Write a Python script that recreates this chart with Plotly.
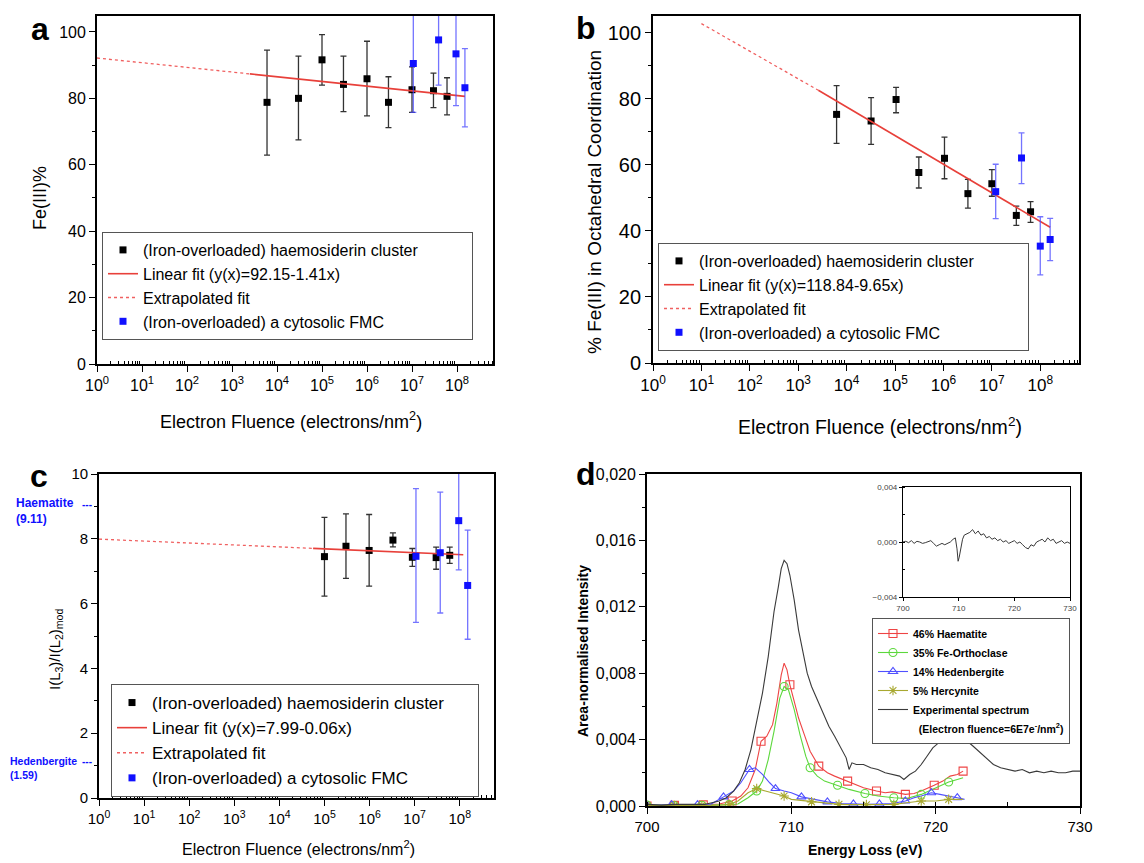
import plotly.graph_objects as go

W, H = 1144, 863
OFF = 8  # default page margin of the html body
FW, FH = W - OFF, H - OFF
FONT = "Liberation Sans, Arial, sans-serif"

# ---- panel a : Fe(III)% ----
a_h_x = [6e3, 3e4, 1e5, 3e5, 1e6, 3e6, 1e7, 3e7, 6e7]
a_h_y = [78.8, 80.0, 91.6, 84.2, 85.9, 78.8, 82.6, 82.3, 80.6]
a_h_hi = [94.5, 92.7, 99.2, 92.7, 97.2, 86.5, 89.5, 87.6, 86.2]
a_h_lo = [62.9, 67.5, 84.0, 76.0, 74.7, 71.2, 75.8, 77.2, 75.0]
a_f_x = [1.07e7, 3.9e7, 9.5e7, 1.5e8]
a_f_y = [90.5, 97.6, 93.4, 83.2]
a_f_hi = [105.2, 111.2, 109.0, 95.0]
a_f_lo = [75.8, 84.0, 77.8, 71.4]
a_fit_x, a_fit_y = [2.5e3, 1.5e8], [87.36, 80.6]
a_ext_x, a_ext_y = [1, 2.5e3], [92.15, 87.36]

# ---- panel b : % Fe(III) octahedral ----
b_h_x = [6.2e3, 3.2e4, 1.05e5, 3.1e5, 1.05e6, 3.2e6, 1.0e7, 3.2e7, 6.3e7]
b_h_y = [75.3, 73.3, 79.8, 57.7, 62.0, 51.3, 54.3, 44.7, 45.8]
b_h_hi = [84.0, 80.4, 83.5, 62.4, 68.4, 55.6, 58.6, 47.5, 48.9]
b_h_lo = [66.5, 66.2, 75.8, 53.0, 55.8, 46.9, 50.5, 41.7, 42.6]
b_f_x = [1.2e7, 4.1e7, 1.0e8, 1.6e8]
b_f_y = [51.9, 62.1, 35.4, 37.4]
b_f_hi = [60.2, 69.7, 44.3, 43.8]
b_f_lo = [43.7, 54.3, 26.7, 31.0]
b_fit_x, b_fit_y = [2.6e3, 1.6e8], [82.6, 41.1]
b_ext_x, b_ext_y = [10, 2.6e3], [102.8, 82.6]

# ---- panel c : L3/L2 ratio ----
c_h_x = [1e5, 3e5, 9.8e5, 3.3e6, 8.9e6, 3e7, 6e7]
c_h_y = [7.45, 7.77, 7.64, 7.96, 7.43, 7.42, 7.49]
c_h_hi = [8.66, 8.77, 8.75, 8.18, 7.70, 7.74, 7.74]
c_h_lo = [6.23, 6.78, 6.54, 7.75, 7.15, 7.06, 7.24]
c_f_x = [1.07e7, 3.7e7, 9.5e7, 1.5e8]
c_f_y = [7.46, 7.57, 8.56, 6.56]
c_f_hi = [9.55, 9.44, 10.08, 8.27]
c_f_lo = [5.42, 5.71, 7.04, 4.90]
c_fit_x, c_fit_y = [5.6e4, 1.2e8], [7.705, 7.506]
c_ext_x, c_ext_y = [1, 5.6e4], [7.99, 7.705]
# reference minerals, drawn where the picture puts them
c_refs = [("Haematite", "(9.11)", 8.98, 12, 14), ("Hedenbergite", "(1.59)", 1.02, 10.5, 8)]

# ---- panel d : EELS spectrum fit ----
exp_x = [700, 701, 702, 703, 704, 704.5, 705, 705.5, 706, 706.4, 706.8, 707.2, 707.6, 708, 708.4,
         708.8, 709.1, 709.3, 709.5, 709.7, 709.9, 710.2, 710.5, 710.8, 711.1, 711.4, 711.8, 712.2,
         712.6, 713, 713.4, 713.8, 714, 714.2, 714.5, 715, 715.5, 716, 716.5, 717, 717.5, 717.8,
         718.2, 718.6, 719, 719.4, 719.8, 720.2, 720.6, 721, 721.4, 721.8, 722.2, 722.6, 723, 723.5,
         724, 724.5, 725, 725.5, 726, 726.5, 727, 727.5, 728, 728.5, 729, 729.5, 730]
exp_y = [0.0001, 0.00005, 0.0001, 0.00008, 0.0001, 0.0002, 0.0003, 0.0005, 0.0009, 0.0014, 0.0022,
         0.0034, 0.0050, 0.0068, 0.0090, 0.0117, 0.0132, 0.0143, 0.0148, 0.0146, 0.0139, 0.0124,
         0.0106, 0.0092, 0.0080, 0.0072, 0.0064, 0.0055, 0.0048, 0.0042, 0.0035, 0.0029, 0.0022,
         0.0026, 0.0025, 0.0025, 0.0023, 0.0022, 0.0020, 0.0019, 0.0018, 0.0016, 0.0019, 0.0021,
         0.0025, 0.0030, 0.0035, 0.0038, 0.0040, 0.0041, 0.0042, 0.0041, 0.0039, 0.0036, 0.0033,
         0.0029, 0.0025, 0.0023, 0.0022, 0.0021, 0.0022, 0.0020, 0.0021, 0.0020, 0.0021, 0.0020,
         0.0020, 0.0021, 0.0021]

hae_x = [700, 701, 701.9, 703, 703.9, 705, 705.9, 706.5, 707, 707.5, 707.9, 708.3, 708.7, 709, 709.3,
         709.5, 709.7, 709.9, 710.2, 710.5, 710.9, 711.3, 711.9, 712.5, 713, 713.9, 714.5, 715, 715.9,
         716.5, 717, 717.9, 718.5, 719, 719.9, 720.5, 721, 721.5, 721.9]
hae_y = [0.0, 0.00003, 0.00004, 0.00005, 0.00007, 0.00012, 0.0003, 0.0006, 0.0011, 0.0022, 0.0039,
         0.0042, 0.0049, 0.0062, 0.0079, 0.0086, 0.0082, 0.0073, 0.0063, 0.0053, 0.0043, 0.0033,
         0.0024, 0.0020, 0.0018, 0.0015, 0.0013, 0.0011, 0.0009, 0.0008, 0.00085, 0.0007, 0.00075,
         0.0009, 0.00125, 0.0015, 0.0018, 0.0019, 0.0021]
hae_mx = [700, 701.9, 703.9, 705.9, 707.9, 709.9, 711.9, 713.9, 715.9, 717.9, 719.9, 721.9]
hae_my = [0.0, 0.00004, 0.00007, 0.0003, 0.0039, 0.0073, 0.0024, 0.0015, 0.0009, 0.0007, 0.00125, 0.0021]

ort_x = [700, 700.9, 701.9, 702.9, 703.8, 704.8, 705.7, 706.3, 707, 707.6, 708, 708.4, 708.8, 709.2,
         709.5, 709.8, 710.2, 710.6, 711, 711.3, 711.8, 712.3, 713.2, 714, 715.1, 716, 717.1, 718,
         719.0, 720, 720.9, 721.5, 721.9]
ort_y = [0.00005, 0.00003, 0.00002, 0.00003, 0.00004, 0.00005, 0.00008, 0.00012, 0.0005, 0.0009,
         0.0015, 0.0028, 0.0045, 0.0065, 0.0072, 0.0070, 0.0058, 0.0043, 0.0030, 0.0023, 0.0018,
         0.0015, 0.00125, 0.0010, 0.00075, 0.0006, 0.0005, 0.00045, 0.0007, 0.0011, 0.00145, 0.0016,
         0.0017]
ort_mx = [700, 701.9, 703.8, 705.7, 707.6, 709.5, 711.3, 713.2, 715.1, 717.1, 719.0, 720.9]
ort_my = [0.00005, 0.00002, 0.00004, 0.00008, 0.0009, 0.0072, 0.0023, 0.00125, 0.00075, 0.0005, 0.0007, 0.00145]

hed_x = [700, 700.9, 701.7, 702.6, 703.5, 704.4, 705.3, 706, 706.5, 707.1, 707.5, 708, 708.5, 708.9,
         709.5, 710, 710.7, 711.5, 712.5, 713.5, 714.3, 715.2, 716.1, 717, 717.9, 718.5, 719, 719.7,
         720.3, 721, 721.5, 722]
hed_y = [0.00003, 0.00005, 0.00008, 0.00005, 0.00008, 0.0001, 0.00055, 0.0009, 0.0014, 0.0022, 0.0023,
         0.0019, 0.0014, 0.00105, 0.0009, 0.0008, 0.00055, 0.0004, 0.00025, 0.00015, 0.00012, 0.0001,
         0.00012, 0.00015, 0.0003, 0.0005, 0.0006, 0.0008, 0.0007, 0.0006, 0.0005, 0.0004]
hed_mx = [700, 701.7, 703.5, 705.3, 707.1, 708.9, 710.7, 712.5, 714.3, 716.1, 717.9, 719.7, 721.5]
hed_my = [0.00003, 0.00008, 0.00008, 0.00055, 0.0022, 0.00105, 0.00055, 0.00025, 0.00012, 0.00012,
          0.0003, 0.0008, 0.0005]

her_x = [700, 701.9, 703.8, 705, 705.7, 706.3, 707, 707.6, 708.2, 709, 709.5, 710, 711, 711.4, 712,
         713.3, 714, 715.2, 716, 717.1, 718, 719.0, 720, 720.9, 721.9]
her_y = [0.00002, 0.00003, 0.00003, 0.00005, 0.0001, 0.0003, 0.0008, 0.00105, 0.0009, 0.0007, 0.0006,
         0.0004, 0.0003, 0.00025, 0.0002, 0.0001, 0.00008, 0.00008, 0.0001, 0.0001, 0.0002, 0.0003,
         0.0003, 0.0004, 0.0004]
her_mx = [700, 701.9, 703.8, 705.7, 707.6, 709.5, 711.4, 713.3, 715.2, 717.1, 719.0, 720.9]
her_my = [0.00002, 0.00003, 0.00003, 0.0001, 0.00105, 0.0006, 0.00025, 0.0001, 0.00008, 0.0001, 0.0003, 0.0004]

res_x = [700, 700.5, 701, 701.5, 702, 702.5, 703, 703.5, 704, 704.5, 705, 705.5, 706, 706.5, 707,
         707.5, 708, 708.5, 709, 709.4, 709.7, 709.9, 710.1, 710.4, 710.7, 711, 711.5, 712, 712.5,
         713, 713.5, 714, 714.5, 715, 715.5, 716, 716.5, 717, 717.5, 718, 718.5, 719, 719.5, 720,
         720.5, 721, 721.5, 722, 722.5, 723, 723.5, 724, 724.5, 725, 725.5, 726, 726.5, 727, 727.5,
         728, 728.5, 729, 729.5, 730]
res_y = [0.0, 0.00005, -0.00005, 0.0001, -0.0001, 0.00005, 0.0, -0.0001, -0.00005, 0.0, 0.0001,
         -0.0001, -0.0003, -0.0002, -0.0001, -0.0002, -0.0001, 0.0, 0.0002, 0.0003, -0.0005, -0.0014,
         -0.0011, -0.0003, 0.0002, 0.0005, 0.0006, 0.0007, 0.0009, 0.0006, 0.0008, 0.0005, 0.0006,
         0.0003, 0.0004, 0.0002, 0.0003, 0.0001, 0.0002, 0.0, 0.0001, -0.0001, 0.0, 0.0001, -0.0001,
         0.0, -0.0002, -0.0004, -0.0005, -0.0002, -0.0003, 0.0, 0.0001, 0.0002, 0.0, 0.0003, 0.0001,
         0.0002, -0.0001, 0.0, 0.0001, -0.0001, 0.0, -0.0001]

decades = [10 ** n for n in range(9)]
dec_text = ["10<sup>%d</sup>" % n for n in range(9)]
minor_log = [k * 10 ** n for n in range(9) for k in range(2, 10)]

RED = "#e8403a"
BLUE = "#1010ff"
EBLUE = "rgba(70,70,255,0.75)"


def px_x(p):
    return (p - OFF) / FW


def px_y(p):
    return 1 - (p - OFF) / FH


fig = go.Figure()


def add_fluence_panel(n, hx, hy, hhi, hlo, fx, fy, fhi, flo, fitx, fity, extx, exty,
                      fit_label, leg, pad):
    xa, ya = ("x", "y") if n == 1 else ("x%d" % n, "y%d" % n)
    fig.add_trace(go.Scatter(
        x=hx, y=hy, mode="markers",
        name="(Iron-overloaded) haemosiderin cluster" + "\u00a0" * pad,
        marker=dict(symbol="square", size=7, color="black"),
        error_y=dict(type="data", symmetric=False,
                     array=[h - v for h, v in zip(hhi, hy)],
                     arrayminus=[v - l for v, l in zip(hy, hlo)],
                     color="#333333", thickness=1.3, width=3),
        xaxis=xa, yaxis=ya, legend=leg))
    fig.add_trace(go.Scatter(
        x=fitx, y=fity, mode="lines", name=fit_label,
        line=dict(color=RED, width=1.6), xaxis=xa, yaxis=ya, legend=leg))
    fig.add_trace(go.Scatter(
        x=extx, y=exty, mode="lines", name="Extrapolated fit",
        line=dict(color="#f06060", width=1.3, dash="dot"), xaxis=xa, yaxis=ya, legend=leg))
    fig.add_trace(go.Scatter(
        x=fx, y=fy, mode="markers", name="(Iron-overloaded) a cytosolic FMC",
        marker=dict(symbol="square", size=7, color=BLUE),
        error_y=dict(type="data", symmetric=False,
                     array=[h - v for h, v in zip(fhi, fy)],
                     arrayminus=[v - l for v, l in zip(fy, flo)],
                     color=EBLUE, thickness=1.3, width=3),
        xaxis=xa, yaxis=ya, legend=leg))


add_fluence_panel(1, a_h_x, a_h_y, a_h_hi, a_h_lo, a_f_x, a_f_y, a_f_hi, a_f_lo,
                  a_fit_x, a_fit_y, a_ext_x, a_ext_y, "Linear fit (y(x)=92.15-1.41x)", "legend", 11)
add_fluence_panel(2, b_h_x, b_h_y, b_h_hi, b_h_lo, b_f_x, b_f_y, b_f_hi, b_f_lo,
                  b_fit_x, b_fit_y, b_ext_x, b_ext_y, "Linear fit (y(x)=118.84-9.65x)", "legend2", 11)
add_fluence_panel(3, c_h_x, c_h_y, c_h_hi, c_h_lo, c_f_x, c_f_y, c_f_hi, c_f_lo,
                  c_fit_x, c_fit_y, c_ext_x, c_ext_y, "Linear fit (y(x)=7.99-0.06x)", "legend3", 6)

# panel d components
comps = [
    ("46% Haematite", hae_x, hae_y, hae_mx, hae_my, "#ee4444", "square-open"),
    ("35% Fe-Orthoclase", ort_x, ort_y, ort_mx, ort_my, "#5cd83c", "circle-open"),
    ("14% Hedenbergite", hed_x, hed_y, hed_mx, hed_my, "#5050ff", "triangle-up-open"),
    ("5% Hercynite", her_x, her_y, her_mx, her_my, "#a8a830", "asterisk-open"),
]
for name, lx, ly, mx, my, col, sym in comps:
    fig.add_trace(go.Scatter(x=lx, y=ly, mode="lines", line=dict(color=col, width=1.1),
                             showlegend=False, xaxis="x4", yaxis="y4"))
    fig.add_trace(go.Scatter(x=mx, y=my, mode="markers", showlegend=False,
                             marker=dict(symbol=sym, size=8, color=col, line=dict(width=1.1)),
                             xaxis="x4", yaxis="y4"))
    fig.add_trace(go.Scatter(x=[None], y=[None], mode="lines+markers", name=name,
                             line=dict(color=col, width=1.1),
                             marker=dict(symbol=sym, size=8, color=col, line=dict(width=1.1)),
                             xaxis="x4", yaxis="y4", legend="legend4"))
fig.add_trace(go.Scatter(x=exp_x, y=exp_y, mode="lines", name="Experimental spectrum",
                         line=dict(color="#3a3a3a", width=1.1), xaxis="x4", yaxis="y4",
                         legend="legend4"))
fig.add_trace(go.Scatter(x=[None], y=[None], mode="lines",
                         name="\u00a0\u00a0(Electron fluence=6E7e<sup>-</sup>/nm<sup>2</sup>)",
                         line=dict(color="rgba(0,0,0,0)", width=0), xaxis="x4", yaxis="y4",
                         legend="legend4"))
# inset residual
fig.add_trace(go.Scatter(x=res_x, y=res_y, mode="lines", showlegend=False,
                         line=dict(color="#3a3a3a", width=1), xaxis="x5", yaxis="y5"))


def log_x(dom, anchor, size, rng):
    return dict(type="log", range=rng, domain=dom, anchor=anchor,
                tickmode="array", tickvals=decades, ticktext=dec_text,
                tickfont=dict(size=size, color="black"),
                ticks="outside", ticklen=6, tickwidth=1.3, tickcolor="black",
                minor=dict(tickmode="array", tickvals=minor_log, ticks="inside", ticklen=3,
                           tickcolor="black", showgrid=False),
                showline=True, linecolor="black", linewidth=1.8, mirror=True,
                showgrid=False, zeroline=False, automargin=False)


def lin_y(dom, anchor, rng, dtick, minor, size, fmt=None):
    d = dict(range=rng, domain=dom, anchor=anchor, dtick=dtick, tick0=0,
             tickfont=dict(size=size, color="black"),
             ticks="outside", ticklen=6, tickwidth=1.3, tickcolor="black",
             minor=dict(dtick=minor, tick0=0, ticks="outside", ticklen=3, tickcolor="black",
                        showgrid=False),
             showline=True, linecolor="black", linewidth=1.8, mirror=True,
             showgrid=False, zeroline=False, automargin=False)
    if fmt:
        d["tickformat"] = fmt
    return d


def top_x(base, over, anchor):
    # inward ticks along the top frame
    return dict(type="log", range=base["range"], domain=base["domain"], overlaying=over,
                anchor=anchor, side="top", tickmode="array", tickvals=decades,
                showticklabels=False, ticks="inside", ticklen=6, tickwidth=1.3, tickcolor="black",
                minor=dict(tickmode="array", tickvals=minor_log, ticks="inside", ticklen=3,
                           tickcolor="black", showgrid=False),
                showline=False, showgrid=False, zeroline=False, automargin=False)


def right_y(base, over, anchor):
    # inward ticks along the right frame
    return dict(range=base["range"], domain=base["domain"], overlaying=over, anchor=anchor,
                side="right", dtick=base["dtick"], tick0=0, showticklabels=False,
                ticks="inside", ticklen=6, tickwidth=1.3, tickcolor="black",
                minor=dict(dtick=base["minor"]["dtick"], tick0=0, ticks="inside", ticklen=3,
                           tickcolor="black", showgrid=False),
                showline=False, showgrid=False, zeroline=False, automargin=False)


xa = log_x([px_x(97), px_x(493)], "y", 16, [0, 8.8])
ya = lin_y([px_y(364), px_y(16)], "x", [0, 104.8], 20, 10, 16)
xb = log_x([px_x(653), px_x(1079)], "y2", 17, [0, 8.8])
yb = lin_y([px_y(363), px_y(16)], "x2", [0, 105.1], 20, 10, 20)
xc = log_x([px_x(99), px_x(494)], "y3", 15, [0, 8.76])
yc = lin_y([px_y(798), px_y(474)], "x3", [0, 10], 2, 1, 15)

xd = dict(range=[700, 730], domain=[px_x(647), px_x(1080)], anchor="y4", dtick=10,
          tickfont=dict(size=15, color="black"), ticks="outside", ticklen=6, tickwidth=1.3,
          tickcolor="black",
          minor=dict(dtick=5, ticks="inside", ticklen=4, tickcolor="black", showgrid=False),
          showline=True, linecolor="black", linewidth=1.8, mirror=True,
          showgrid=False, zeroline=False, automargin=False)
yd = lin_y([px_y(806), px_y(474)], "x4", [0, 0.020], 0.004, 0.002, 16, ".3f")

xe = dict(range=[700, 730], domain=[px_x(903), px_x(1070)], anchor="y5", dtick=10,
          tickfont=dict(size=8, color="#444"), ticks="outside", ticklen=3, tickcolor="black",
          showline=True, linecolor="black", linewidth=1.2, mirror=True,
          showgrid=False, zeroline=False, automargin=False)
ye = dict(range=[-0.004, 0.004], domain=[px_y(597), px_y(487)], anchor="x5", dtick=0.004,
          tickformat=".3f", tickfont=dict(size=8, color="#444"), ticks="outside", ticklen=3,
          tickcolor="black", minor=dict(dtick=0.002, ticks="inside", ticklen=2, tickcolor="black"),
          showline=True, linecolor="black", linewidth=1.2, mirror=True,
          showgrid=False, zeroline=False, automargin=False)


def legend_box(x, y, size, bold=False):
    f = dict(size=size, color="black", family=FONT)
    if bold:
        f["weight"] = "bold"
    return dict(x=px_x(x), y=px_y(y), xanchor="left", yanchor="top", font=f,
                bgcolor="white", bordercolor="#555555", borderwidth=1, tracegroupgap=0)


fig.update_layout(
    width=FW, height=FH, template="none",
    paper_bgcolor="white", plot_bgcolor="white",
    margin=dict(l=0, r=0, t=0, b=0),
    font=dict(family=FONT, color="black"),
    separators=", ",
    xaxis=xa, yaxis=ya, xaxis2=xb, yaxis2=yb, xaxis3=xc, yaxis3=yc,
    xaxis4=xd, yaxis4=yd, xaxis5=xe, yaxis5=ye,
    xaxis6=top_x(xa, "x", "y"), yaxis6=right_y(ya, "y", "x"),
    xaxis7=top_x(xb, "x2", "y2"), yaxis7=right_y(yb, "y2", "x2"),
    xaxis8=top_x(xc, "x3", "y3"), yaxis8=right_y(yc, "y3", "x3"),
    legend=legend_box(102, 232, 16),
    legend2=legend_box(658, 243, 16),
    legend3=legend_box(111, 684, 17),
    legend4=legend_box(872, 618, 10.5, bold=True),
)

notes = [
    # panel letters
    ("<b>a</b>", 40, 29, 32, 0), ("<b>b</b>", 586, 28, 32, 0),
    ("<b>c</b>", 39, 476, 32, 0), ("<b>d</b>", 586, 474, 32, 0),
    # axis titles
    ("Fe(III)%", 40, 198, 18, -90),
    ("Electron Fluence (electrons/nm<sup>2</sup>)", 291, 420, 18, 0),
    ("% Fe(III) in Octahedral Coordination", 595, 202, 19, -90),
    ("Electron Fluence (electrons/nm<sup>2</sup>)", 880, 426, 19.5, 0),
    ("I(L<sub>3</sub>)/I(L<sub>2</sub>)<sub>mod</sub>", 55, 650, 15, -90),
    ("Electron Fluence (electrons/nm<sup>2</sup>)", 298, 848, 16, 0),
    ("<b>Area-normalised Intensity</b>", 583, 651, 14, -90),
    ("<b>Energy Loss (eV)</b>", 865, 850, 14, 0),
]
for txt, x, y, size, ang in notes:
    fig.add_annotation(text=txt, x=px_x(x), y=px_y(y), xref="paper", yref="paper",
                       showarrow=False, textangle=ang, xanchor="center", yanchor="middle",
                       font=dict(size=size, color="black", family=FONT))

for name, val, ypos, size, x0 in c_refs:
    fig.add_annotation(text="<b>%s</b><br><b>%s</b>" % (name, val), x=px_x(x0), y=ypos,
                       xref="paper", yref="y3", showarrow=False, xanchor="left", yanchor="top",
                       yshift=size + 1, align="left", font=dict(size=size, color=BLUE, family=FONT))
    fig.add_annotation(text="<b>---</b>", x=px_x(87), y=ypos, xref="paper", yref="y3",
                       showarrow=False, xanchor="center", yanchor="middle", yshift=3,
                       font=dict(size=10, color=BLUE, family=FONT))

fig.write_html("out.html")
